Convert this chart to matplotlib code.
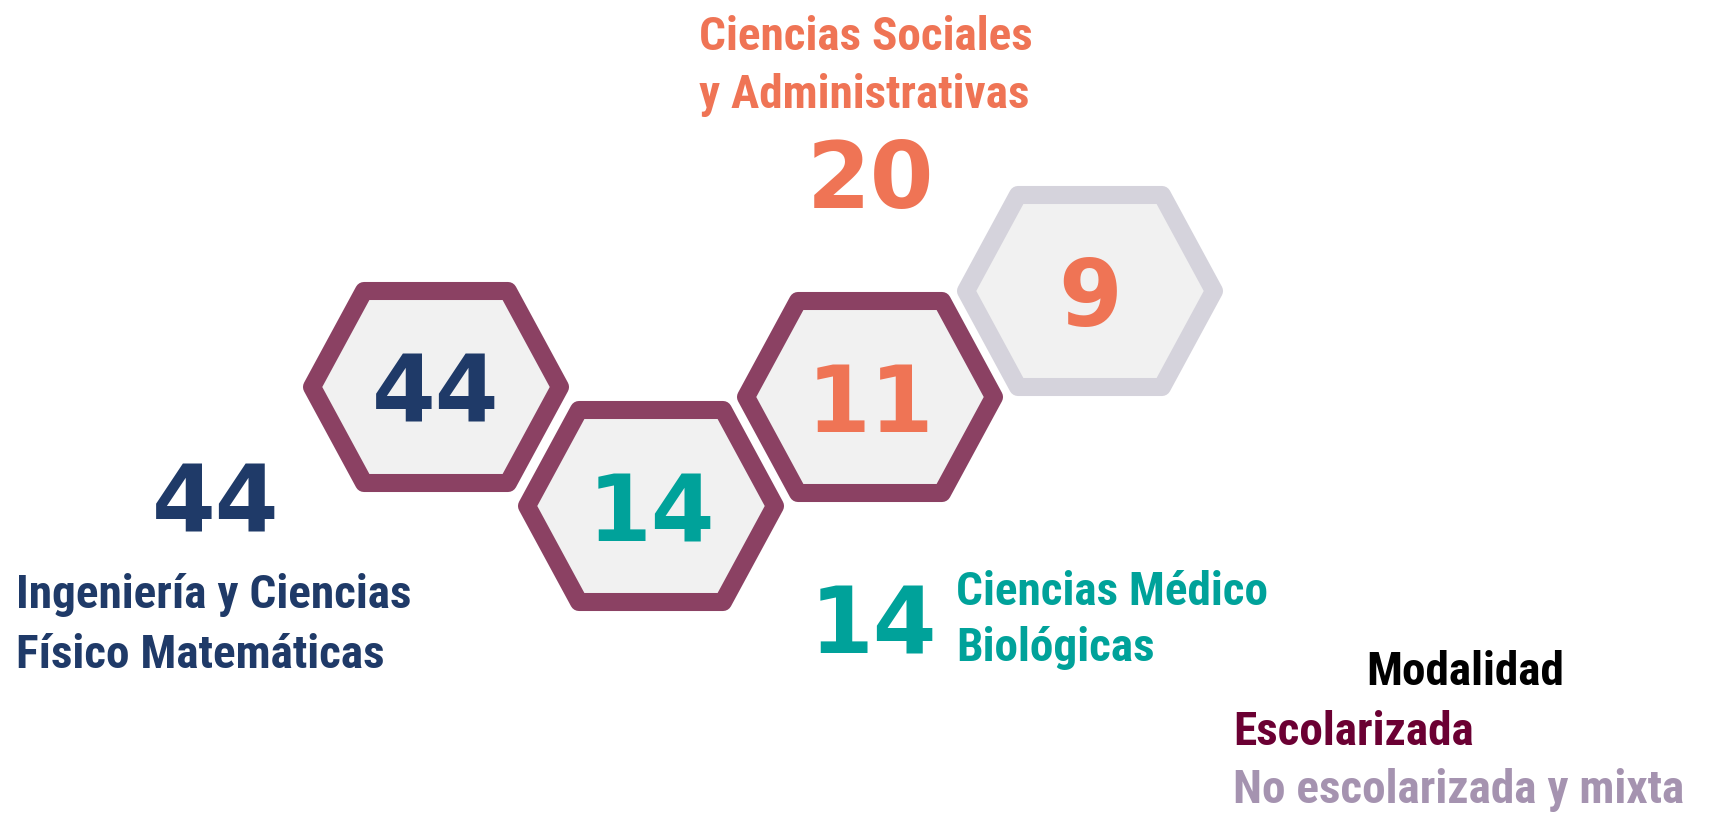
import matplotlib
matplotlib.use("Agg")
import matplotlib.pyplot as plt
from matplotlib import font_manager
from matplotlib.patches import Polygon

# --- data ---
hex_values = [44, 14, 11, 9]
hex_modes = ["Escolarizada", "Escolarizada", "Escolarizada", "No escolarizada y mixta"]
hex_value_colors = ["#1F3A68", "#00A29A", "#EF7455", "#EF7455"]

areas = ["Ingeniería y Ciencias\nFísico Matemáticas",
         "Ciencias Médico\nBiológicas",
         "Ciencias Sociales\ny Administrativas"]
area_totals = [44, 14, 20]
area_colors = ["#1F3A68", "#00A29A", "#EF7455"]

legend_title = "Modalidad"
legend_items = ["Escolarizada", "No escolarizada y mixta"]
legend_colors = ["#6B0033", "#A593B0"]
mode_border = {"Escolarizada": "#8B4163", "No escolarizada y mixta": "#D5D3DC"}

# --- layout (pixel coords, y down) ---
W, H = 1709, 815
hex_centers = [(436, 387), (651, 506), (870, 397), (1090, 291)]
HW, HT, HH = 124, 72, 96   # half width, half top edge, half height of stroke path

installed = {f.name for f in font_manager.fontManager.ttflist}
label_font = "DejaVu Sans"
for name in ["Roboto Condensed", "Liberation Sans Narrow", "Open Sans Condensed", "DejaVu Sans"]:
    if name in installed:
        label_font = name
        break
num_font = "DejaVu Sans"
LBL = 34
NUM = 66

fig = plt.figure(figsize=(W / 100, H / 100), dpi=100)
ax = fig.add_axes([0, 0, 1, 1])
ax.set_xlim(0, W)
ax.set_ylim(H, 0)
ax.axis("off")


def hexagon(cx, cy):
    return [(cx - HW, cy), (cx - HT, cy - HH), (cx + HT, cy - HH),
            (cx + HW, cy), (cx + HT, cy + HH), (cx - HT, cy + HH)]


for (cx, cy), val, mode, col in zip(hex_centers, hex_values, hex_modes, hex_value_colors):
    ax.add_patch(Polygon(hexagon(cx, cy), closed=True, facecolor="#F1F1F1",
                         edgecolor=mode_border[mode], linewidth=13, joinstyle="round"))
    ax.text(cx, cy + 35, str(val), color=col, fontsize=NUM, fontweight="bold",
            family=num_font, ha="center", va="baseline")

# area labels
ax.text(216, 532, str(area_totals[0]), color=area_colors[0], fontsize=NUM,
        fontweight="bold", family=num_font, ha="center", va="baseline")
for i, line in enumerate(areas[0].split("\n")):
    ax.text(16, 608 + i * 60, line, color=area_colors[0], fontsize=LBL,
            fontweight="bold", family=label_font, ha="left", va="baseline")

ax.text(873, 654, str(area_totals[1]), color=area_colors[1], fontsize=NUM,
        fontweight="bold", family=num_font, ha="center", va="baseline")
for i, line in enumerate(areas[1].split("\n")):
    ax.text(956, 605 + i * 56, line, color=area_colors[1], fontsize=LBL,
            fontweight="bold", family=label_font, ha="left", va="baseline")

for i, line in enumerate(areas[2].split("\n")):
    ax.text(699, 50 + i * 58, line, color=area_colors[2], fontsize=LBL,
            fontweight="bold", family=label_font, ha="left", va="baseline")
ax.text(870, 208, str(area_totals[2]), color=area_colors[2], fontsize=NUM,
        fontweight="bold", family=num_font, ha="center", va="baseline")

# legend
ax.text(1465, 685, legend_title, color="black", fontsize=LBL, fontweight="bold",
        family=label_font, ha="center", va="baseline")
for i, (item, c) in enumerate(zip(legend_items, legend_colors)):
    ax.text(1233, 745 + i * 58, item, color=c, fontsize=LBL, fontweight="bold",
            family=label_font, ha="left", va="baseline")

fig.savefig("out.png", dpi=100, facecolor="white")
